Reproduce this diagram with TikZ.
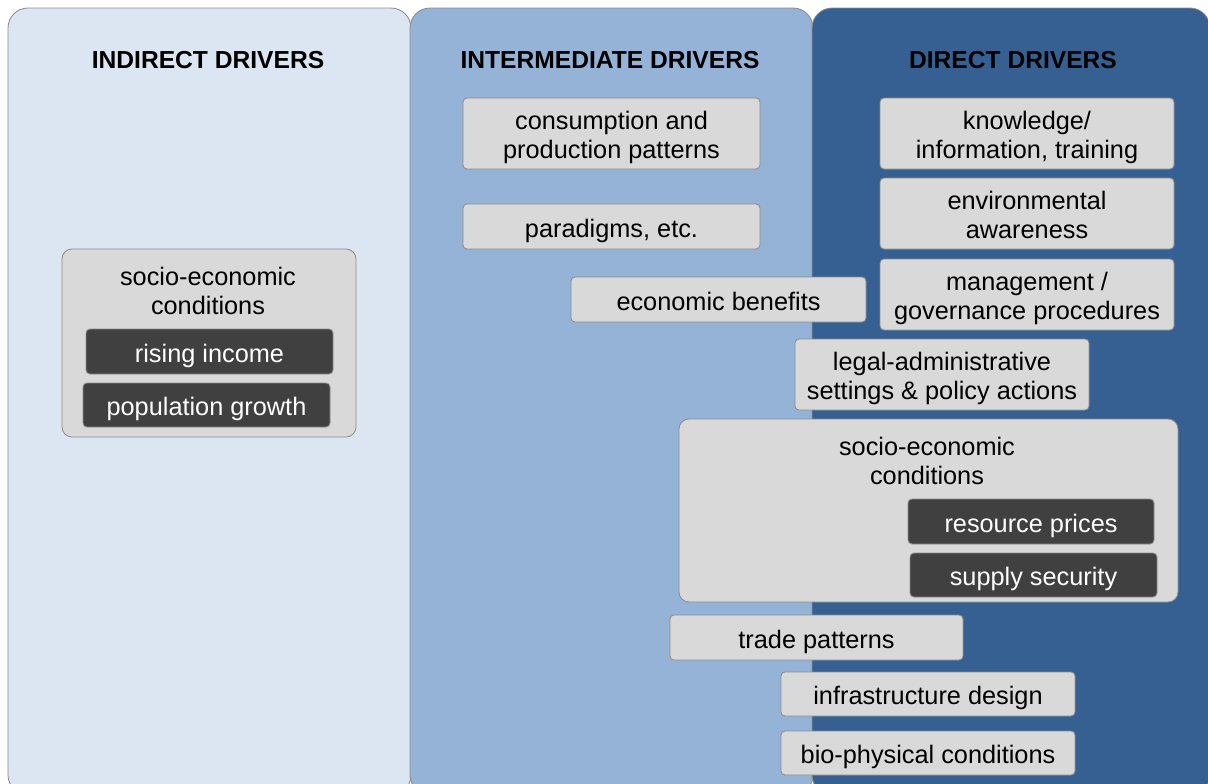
\documentclass[tikz,border=0pt]{standalone}
\usepackage{fontspec}
\setmainfont{Liberation Sans}
\definecolor{lightcol}{HTML}{DCE6F2}
\definecolor{midcol}{HTML}{95B3D7}
\definecolor{darkcol}{HTML}{366092}
\definecolor{boxgray}{HTML}{D9D9D9}
\definecolor{boxdark}{HTML}{404040}
\definecolor{edgegray}{HTML}{8C8C8C}
\newcommand\pxu{0.025cm}
\tikzset{
  drvcol/.style={draw=edgegray,line width=0.6pt,rounded corners=0.5cm},
  colhead/.style={font=\fontsize{17.5}{21}\selectfont\bfseries},
  factor/.style={draw=edgegray,fill=boxgray,line width=0.6pt,rounded corners=0.1cm,
    align=center,inner sep=0pt,font=\fontsize{18}{20.6}\selectfont,
    text height=19pt,text depth=3.8pt},
  twoline/.style={text height=39.6pt},
  subfactor/.style={factor,fill=boxdark,text=white},
  factorgroup/.style={factor,rounded corners=0.25cm},
  wh/.style 2 args={minimum width=#1*\pxu,minimum height=#2*\pxu}
}
\begin{document}
\begin{tikzpicture}[x=\pxu,y=-\pxu]
\useasboundingbox (0,0) rectangle (1208,783);
\clip (0,0) rectangle (1208,783);
%columns
\draw[drvcol,fill=lightcol](8,8)rectangle(411,795);
\draw[drvcol,fill=midcol](410,8)rectangle(813,795);
\draw[drvcol,fill=darkcol](812,8)rectangle(1210,795);
\node[colhead] (indhead) at (208,60) {INDIRECT DRIVERS};
\node[colhead] (inthead) at (610,60) {INTERMEDIATE DRIVERS};
\node[colhead] (dirhead) at (1013,60) {DIRECT DRIVERS};
%indirect
\node[factorgroup,wh={294}{188}] (indsoc) at (209,343) {};
\node[align=center,font=\fontsize{18}{20.6}\selectfont] (indsoctxt) at (208,291) {socio-economic\\conditions};
\node[subfactor,wh={247}{45}] (income) at (209.5,351.5) {rising income};
\node[subfactor,wh={247}{44}] (popgrowth) at (206.5,405) {population growth};
%intermediate
\node[factor,twoline,wh={297}{71}] (consprod) at (611.5,133.5) {consumption and\\production patterns};
\node[factor,wh={297}{45}] (paradigms) at (611.5,226.5) {paradigms, etc.};
\node[factor,wh={295}{45}] (econben) at (718.5,299.5) {economic benefits};
%direct
\node[factor,twoline,wh={294}{71}] (knowledge) at (1027,133.5) {knowledge/\\information, training};
\node[factor,twoline,wh={294}{71}] (envaware) at (1027,213.5) {environmental\\awareness};
\node[factor,twoline,wh={294}{71}] (governance) at (1027,294.5) {management /\\governance procedures};
\node[factor,twoline,wh={294}{71}] (legal) at (942,374.5) {legal-administrative\\settings \& policy actions};
\node[factorgroup,wh={499}{183}] (dirsoc) at (928.5,510.5) {};
\node[align=center,font=\fontsize{18}{20.6}\selectfont] (dirsoctxt) at (927,461) {socio-economic\\conditions};
\node[subfactor,wh={246}{45}] (resprices) at (1031,521.5) {resource prices};
\node[subfactor,wh={247}{44}] (supply) at (1033.5,575) {supply security};
\node[factor,wh={293}{45}] (trade) at (816.5,637.5) {trade patterns};
\node[factor,wh={294}{44}] (infra) at (928,694) {infrastructure design};
\node[factor,wh={294}{44}] (biophys) at (928,753) {bio-physical conditions};
\end{tikzpicture}
\end{document}
